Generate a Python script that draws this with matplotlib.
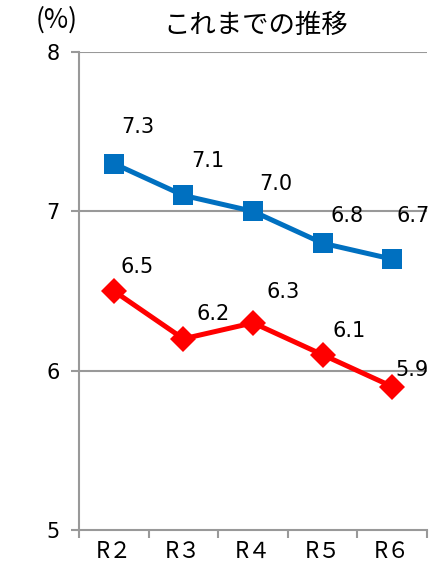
import matplotlib
matplotlib.use("Agg")
import matplotlib.pyplot as plt

years = ["R２", "R３", "R４", "R５", "R６"]
series_blue = [7.3, 7.1, 7.0, 6.8, 6.7]
series_red = [6.5, 6.2, 6.3, 6.1, 5.9]

num_font = "DejaVu Sans"
jp_font = ["Noto Sans CJK JP", "DejaVu Sans"]

# label offsets in pixels (dx, dy)
blue_off = [(24, 37), (24, 34), (23, 27), (24, 27), (21, 43)]
red_off = [(23, 24), (30, 25), (30, 31), (27, 24), (20, 17)]

fig = plt.figure(figsize=(4.43, 5.74), dpi=100)
ax = fig.add_axes([79 / 443, 1 - 530 / 574, 348 / 443, 478 / 574])

x = list(range(len(years)))
ax.plot(x, series_blue, color="#0070C0", lw=3.6, marker="s", ms=14,
        markeredgewidth=0, zorder=3)
ax.plot(x, series_red, color="#FF0000", lw=3.6, marker="D", ms=13,
        markeredgewidth=0, zorder=3)

for xi, v, (dx, dy) in zip(x, series_blue, blue_off):
    ax.annotate(f"{v:.1f}", (xi, v), xytext=(dx * 0.72, dy * 0.72),
                textcoords="offset points", ha="center", va="center",
                fontsize=15, family=num_font, zorder=4)
for xi, v, (dx, dy) in zip(x, series_red, red_off):
    ax.annotate(f"{v:.1f}", (xi, v), xytext=(dx * 0.72, dy * 0.72),
                textcoords="offset points", ha="center", va="center",
                fontsize=15, family=num_font, zorder=4)

ax.set_xlim(-0.5, 4.5)
ax.set_ylim(5, 8)
ax.set_yticks([5, 6, 7, 8])
ax.set_yticklabels(["5", "6", "7", "8"], family=num_font, fontsize=15)
ax.set_xticks(x)
ax.set_xticklabels(years, family=jp_font, fontsize=16)
ax.set_xticks([i - 0.5 for i in range(len(years) + 1)], minor=True)
ax.tick_params(axis="x", which="major", length=0, pad=7)
ax.tick_params(axis="x", which="minor", length=6, width=1.5, color="#999999", direction="out")
ax.tick_params(axis="y", length=6, width=1.5, color="#999999", pad=8)

for y in [6, 7, 8]:
    ax.axhline(y, color="#999999", lw=1.5, zorder=1)

for s in ["top", "right"]:
    ax.spines[s].set_visible(False)
for s in ["left", "bottom"]:
    ax.spines[s].set_color("#999999")
    ax.spines[s].set_linewidth(1.5)

fig.text(256 / 443, 1 - 25 / 574, "これまでの推移", family=jp_font, fontsize=19,
         ha="center", va="center")
fig.text(57 / 443, 1 - 20 / 574, "(%)", family=jp_font, fontsize=19,
         ha="center", va="center")

fig.savefig("out.png", dpi=100)
